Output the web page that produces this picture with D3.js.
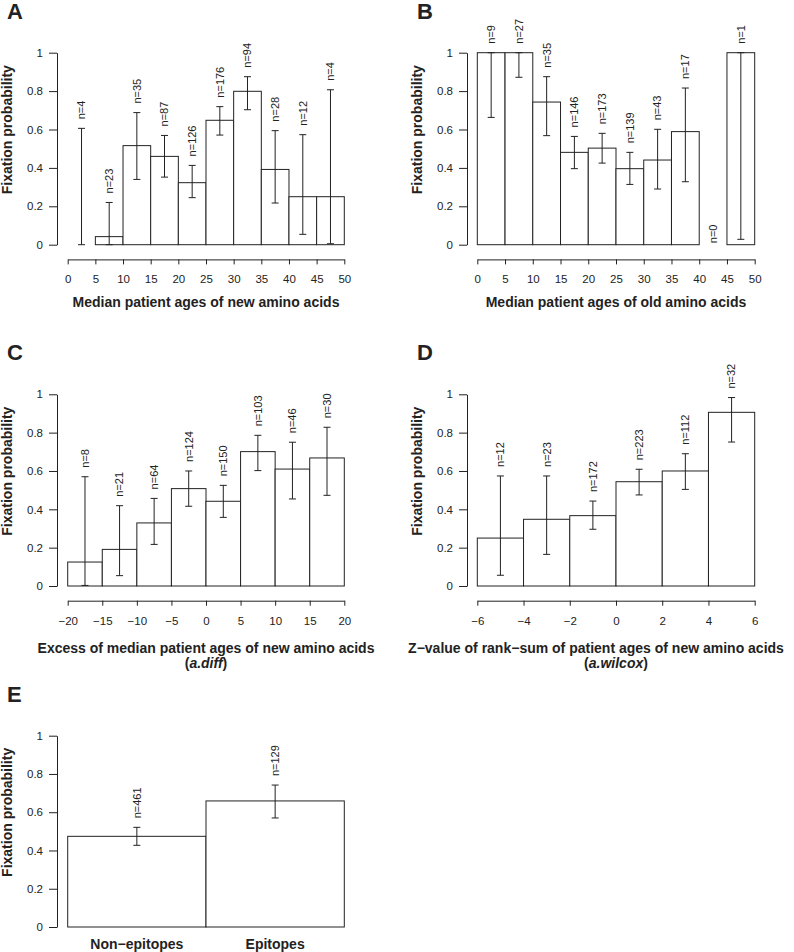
<!DOCTYPE html>
<html>
<head>
<meta charset="utf-8">
<script src="https://cdn.jsdelivr.net/npm/d3@7"></script>
<style>
  html, body { margin: 0; padding: 0; background: #fff; }
  svg text { font-family: "Liberation Sans", Arial, Helvetica, sans-serif; fill: #222; }
</style>
</head>
<body>
<svg id="chart" width="794" height="952"></svg>
<script>
// ---------------- DATA ----------------
// Panel A: median patient ages of new amino acids (bins of width 5, 0..50)
const binsA  = [0, 5, 10, 15, 20, 25, 30, 35, 40, 45];
const valA   = [0, 0.042, 0.516, 0.460, 0.323, 0.648, 0.799, 0.392, 0.250, 0.250];
const lowA   = [0, 0, 0.340, 0.352, 0.245, 0.571, 0.703, 0.217, 0.054, 0.005];
const upA    = [0.606, 0.220, 0.688, 0.569, 0.413, 0.719, 0.875, 0.594, 0.573, 0.807];
const nA     = [4, 23, 35, 87, 126, 176, 94, 28, 12, 4];
const ticksA = [0, 5, 10, 15, 20, 25, 30, 35, 40, 45, 50];

// Panel B: median patient ages of old amino acids
const binsB  = [0, 5, 10, 15, 20, 25, 30, 35, 40, 45];
const valB   = [1, 1, 0.743, 0.481, 0.503, 0.396, 0.441, 0.589, null, 1];
const lowB   = [0.663, 0.872, 0.568, 0.396, 0.425, 0.314, 0.290, 0.328, null, 0.028];
const upB    = [1, 1, 0.875, 0.564, 0.580, 0.481, 0.601, 0.816, null, 1];
const nB     = [9, 27, 35, 146, 173, 139, 43, 17, 0, 1];
const ticksB = [0, 5, 10, 15, 20, 25, 30, 35, 40, 45, 50];

// Panel C: excess of median patient ages (a.diff), bins of width 5, -20..20
const binsC  = [-20, -15, -10, -5, 0, 5, 10, 15];
const valC   = [0.125, 0.191, 0.329, 0.508, 0.442, 0.701, 0.610, 0.668];
const lowC   = [0.003, 0.054, 0.217, 0.416, 0.358, 0.602, 0.454, 0.473];
const upC    = [0.570, 0.419, 0.457, 0.600, 0.525, 0.786, 0.750, 0.828];
const nC     = [8, 21, 64, 124, 150, 103, 46, 30];
const ticksC = [-20, -15, -10, -5, 0, 5, 10, 15, 20];

// Panel D: Z-value of rank-sum (a.wilcox), bins of width 2, -6..6
const binsD  = [-6, -4, -2, 0, 2, 4];
const valD   = [0.250, 0.348, 0.367, 0.544, 0.600, 0.906];
const lowD   = [0.056, 0.165, 0.296, 0.475, 0.504, 0.751];
const upD    = [0.574, 0.574, 0.443, 0.609, 0.690, 0.983];
const nD     = [12, 23, 172, 223, 112, 32];
const ticksD = [-6, -4, -2, 0, 2, 4, 6];

// Panel E: epitopes vs non-epitopes
const catsE  = ["Non\u2212epitopes", "Epitopes"];
const valE   = [0.474, 0.659];
const lowE   = [0.427, 0.570];
const upE    = [0.521, 0.742];
const nE     = [461, 129];

const yTicks = [0, 0.2, 0.4, 0.6, 0.8, 1];
const yLabel = "Fixation probability";

// ---------------- DRAWING ----------------
const svg = d3.select("#chart");
const INK = "#222";
const fmtY = d => (d === 0 ? "0" : d === 1 ? "1" : d3.format(".1f")(d));

function frame(g, L, yTop, yBot) {
  const y = d3.scaleLinear().domain([0, 1]).range([yBot, yTop]);
  const ax = g.append("g").attr("transform", `translate(${L.axisX},0)`)
    .call(d3.axisLeft(y).tickValues(yTicks).tickFormat(fmtY).tickSize(8).tickSizeOuter(0).tickPadding(6));
  ax.select(".domain").attr("stroke", INK);
  ax.selectAll(".tick line").attr("stroke", INK);
  ax.selectAll(".tick text").style("font-size", "11.5px").attr("fill", INK);
  g.append("text")
    .attr("transform", `translate(${L.axisX - 50},${(yTop + yBot) / 2 - 19}) rotate(-90)`)
    .attr("text-anchor", "middle").attr("dy", "0.35em")
    .style("font-size", "14px").style("font-weight", "bold")
    .text(yLabel);
  return y;
}

function bars(g, items, y) {
  items.forEach(d => {
    if (d.v !== null) {
      g.append("rect")
        .attr("x", d.x0).attr("y", y(d.v))
        .attr("width", d.x1 - d.x0).attr("height", y(0) - y(d.v))
        .attr("fill", "#fff").attr("stroke", INK).attr("stroke-width", 1);
    }
  });
  items.forEach(d => {
    const cx = (d.x0 + d.x1) / 2;
    if (d.v !== null) {
      g.append("line").attr("x1", cx).attr("x2", cx)
        .attr("y1", y(d.lo)).attr("y2", y(d.hi)).attr("stroke", INK);
      [d.lo, d.hi].forEach(e => {
        g.append("line").attr("x1", cx - 3.5).attr("x2", cx + 3.5)
          .attr("y1", y(e)).attr("y2", y(e)).attr("stroke", INK);
      });
    }
    const top = d.v !== null ? y(d.hi) - 9 : y(0) - 1.5;
    g.append("text")
      .attr("transform", `translate(${cx},${top}) rotate(-90)`)
      .attr("text-anchor", "start").attr("dy", "0.35em")
      .style("font-size", "11px")
      .text("n=" + d.n);
  });
}

function histPanel(opts) {
  const { letter, L, R, axisX, yTop, yBot, bins, width, vals, lows, ups, ns, ticks, xlab, xlab2, lx, ly, labShift = 0 } = opts;
  const g = svg.append("g");
  const x = d3.scaleLinear().domain([ticks[0], ticks[ticks.length - 1]]).range([L, R]);
  const y = frame(g, { axisX }, yTop, yBot);
  const items = bins.map((b, i) => ({ x0: x(b), x1: x(b + width), v: vals[i], lo: lows[i], hi: ups[i], n: ns[i] }));
  bars(g, items, y);
  const axY = yBot + 14.7;
  const xa = g.append("g").attr("transform", `translate(0,${axY})`)
    .call(d3.axisBottom(x).tickValues(ticks).tickFormat(d3.format("d")).tickSize(5).tickSizeOuter(0));
  xa.select(".domain").attr("stroke", INK);
  xa.selectAll(".tick line").attr("stroke", INK);
  xa.selectAll(".tick text").style("font-size", "11.5px").attr("fill", INK).attr("y", 20).attr("dy", "0.35em");
  const cxl = (L + R) / 2;
  g.append("text").attr("x", cxl + labShift).attr("y", axY + (xlab2 ? 52 : 48))
    .attr("text-anchor", "middle").style("font-size", "14px").style("font-weight", "bold").text(xlab);
  if (xlab2) {
    const t2 = g.append("text").attr("x", cxl).attr("y", axY + 67)
      .attr("text-anchor", "middle").style("font-size", "14px").style("font-weight", "bold");
    t2.append("tspan").text("(");
    t2.append("tspan").style("font-style", "italic").text(xlab2);
    t2.append("tspan").text(")");
  }
  g.append("text").attr("x", lx).attr("y", ly).style("font-size", "22px").style("font-weight", "bold").text(letter);
}

const LEFT = { L: 67.7, R: 344.3, axisX: 57 };
const RIGHT = { L: 477.3, R: 754.7, axisX: 467 };
const ROW1 = { yTop: 52.7, yBot: 244.7 };
const ROW2 = { yTop: 394.3, yBot: 586 };

histPanel({ letter: "A", ...LEFT, ...ROW1, bins: binsA, width: 5, vals: valA, lows: lowA, ups: upA, ns: nA, ticks: ticksA,
  xlab: "Median patient ages of new amino acids", lx: 7, ly: 19 });
histPanel({ letter: "B", ...RIGHT, ...ROW1, bins: binsB, width: 5, vals: valB, lows: lowB, ups: upB, ns: nB, ticks: ticksB,
  xlab: "Median patient ages of old amino acids", lx: 417, ly: 19 });
histPanel({ letter: "C", ...LEFT, ...ROW2, bins: binsC, width: 5, vals: valC, lows: lowC, ups: upC, ns: nC, ticks: ticksC,
  xlab: "Excess of median patient ages of new amino acids", xlab2: "a.diff", lx: 7, ly: 360 });
histPanel({ letter: "D", ...RIGHT, ...ROW2, bins: binsD, width: 2, vals: valD, lows: lowD, ups: upD, ns: nD, ticks: ticksD,
  xlab: "Z\u2212value of rank\u2212sum of patient ages of new amino acids", xlab2: "a.wilcox", lx: 417, ly: 360, labShift: -20 });

// Panel E
(function () {
  const g = svg.append("g");
  const yTop = 735.7, yBot = 927;
  const x = d3.scaleBand().domain(catsE).range([LEFT.L, LEFT.R]).padding(0);
  const y = frame(g, { axisX: LEFT.axisX }, yTop, yBot);
  const items = catsE.map((c, i) => ({ x0: x(c), x1: x(c) + x.bandwidth(), v: valE[i], lo: lowE[i], hi: upE[i], n: nE[i] }));
  bars(g, items, y);
  catsE.forEach(c => {
    g.append("text").attr("x", x(c) + x.bandwidth() / 2).attr("y", 949)
      .attr("text-anchor", "middle").style("font-size", "14px").style("font-weight", "bold").text(c);
  });
  g.append("text").attr("x", 7).attr("y", 702).style("font-size", "22px").style("font-weight", "bold").text("E");
})();
</script>
</body>
</html>
